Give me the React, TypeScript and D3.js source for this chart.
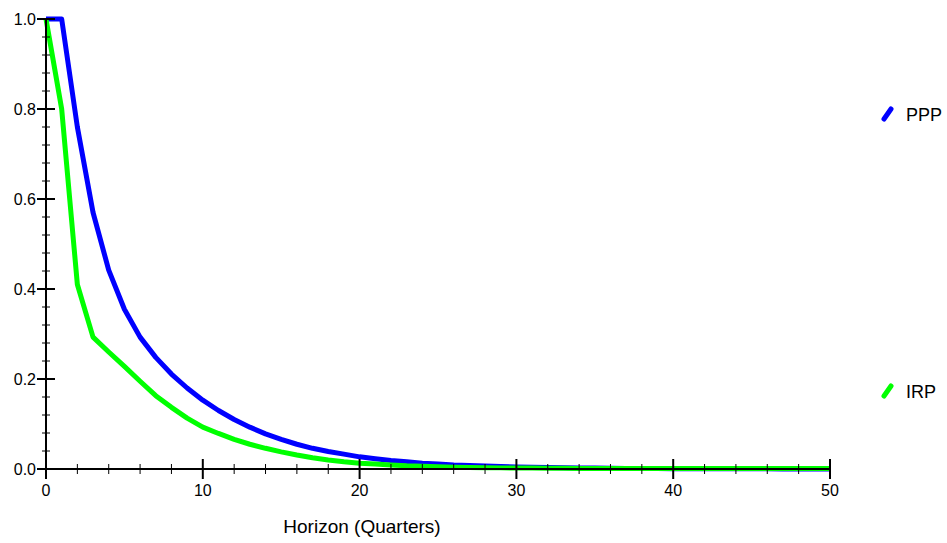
import React, { useEffect, useRef } from 'react'
import * as d3 from 'd3'

// impulse responses, quarters 0..50
const horizon = d3.range(0, 51)
const ppp = [1.0, 1.0, 0.76, 0.57, 0.442, 0.355, 0.293, 0.248, 0.211, 0.18, 0.153, 0.13, 0.11, 0.093, 0.078, 0.066, 0.055, 0.046, 0.039, 0.033, 0.027, 0.023, 0.019, 0.016, 0.013, 0.011, 0.009, 0.008, 0.0065, 0.0055, 0.0045, 0.004, 0.0033, 0.0028, 0.0023, 0.002, 0.0016, 0.0013, 0.0011, 0.0009, 0.0008, 0.0006, 0.0005, 0.0004, 0.0004, 0.0003, 0.0003, 0.0002, 0.0002, 0.0001, 0.0001]
const irp = [1.0, 0.8, 0.41, 0.293, 0.26, 0.228, 0.195, 0.163, 0.137, 0.113, 0.093, 0.079, 0.066, 0.055, 0.046, 0.038, 0.031, 0.025, 0.02, 0.016, 0.013, 0.011, 0.009, 0.007, 0.006, 0.005, 0.004, 0.0035, 0.003, 0.0025, 0.002, 0.002, 0.0015, 0.0015, 0.001, 0.001, 0.001, 0.001, 0.001, 0.001, 0.001, 0.001, 0.001, 0.001, 0.001, 0.001, 0.001, 0.001, 0.001, 0.001, 0.001]
const seriesNames = ['PPP', 'IRP']
const seriesColors = ['#0000ff', '#00ff00']
const xMajor = [0, 10, 20, 30, 40, 50]
const yMajor = [0, 0.2, 0.4, 0.6, 0.8, 1.0]

export default function App() {
  const ref = useRef<SVGSVGElement>(null)

  useEffect(() => {
    const width = 947, height = 543
    const svg = d3.select(ref.current)
    svg.selectAll('*').remove()

    const x = d3.scaleLinear().domain([0, 50]).range([46, 830])
    const y = d3.scaleLinear().domain([0, 1]).range([469, 19])
    const font = 'Liberation Sans, Arial, sans-serif'

    // series lines (drawn first so axes sit on top)
    const line = d3.line<number>()
      .x((d, i) => x(horizon[i]))
      .y(d => y(d))
    ;[ppp, irp].forEach((vals, k) => {
      svg.append('path')
        .attr('d', line(vals))
        .attr('fill', 'none')
        .attr('stroke', seriesColors[k])
        .attr('stroke-width', 5)
        .attr('stroke-linejoin', 'round')
    })

    const ax = svg.append('g').attr('stroke', '#000')
    ax.append('line').attr('x1', x(0)).attr('x2', x(50)).attr('y1', y(0)).attr('y2', y(0)).attr('stroke-width', 2)
    ax.append('line').attr('x1', x(0)).attr('x2', x(0)).attr('y1', y(0)).attr('y2', y(1)).attr('stroke-width', 2)

    // x ticks
    d3.range(0, 51, 2).forEach(v => {
      const major = v % 10 === 0
      const h = major ? 10 : 5
      ax.append('line').attr('x1', x(v)).attr('x2', x(v))
        .attr('y1', y(0) - h).attr('y2', y(0) + h)
        .attr('stroke-width', major ? 2 : 1)
    })
    // y ticks
    d3.range(0, 26).forEach(i => {
      const v = i * 0.04
      const major = i % 5 === 0
      const w = major ? 9 : 4
      ax.append('line').attr('x1', x(0) - w).attr('x2', x(0) + w)
        .attr('y1', y(v)).attr('y2', y(v))
        .attr('stroke-width', major ? 2 : 1)
    })

    svg.selectAll('.xl').data(xMajor).enter().append('text')
      .attr('x', d => x(d)).attr('y', 496)
      .attr('text-anchor', 'middle')
      .style('font-family', font).style('font-size', '16px')
      .text(d => d)

    svg.selectAll('.yl').data(yMajor).enter().append('text')
      .attr('x', 36).attr('y', d => y(d) + 5.5)
      .attr('text-anchor', 'end')
      .style('font-family', font).style('font-size', '16px')
      .text(d => d.toFixed(1))

    svg.append('text')
      .attr('x', 362).attr('y', 533)
      .attr('text-anchor', 'middle')
      .style('font-family', font).style('font-size', '19px')
      .text('Horizon (Quarters)')

    // legend
    const legendY = [114, 391]
    seriesNames.forEach((name, k) => {
      const cy = legendY[k]
      svg.append('line')
        .attr('x1', 884).attr('y1', cy + 5).attr('x2', 891).attr('y2', cy - 5)
        .attr('stroke', seriesColors[k]).attr('stroke-width', 5)
        .attr('stroke-linecap', 'round')
      svg.append('text')
        .attr('x', 906).attr('y', cy + 6.5)
        .style('font-family', font).style('font-size', '18px')
        .text(name)
    })

    svg.attr('width', width).attr('height', height)
  }, [])

  return (
    <svg ref={ref} width={947} height={543}
      style={{ position: 'absolute', left: 0, top: 0, background: '#fff' }} />
  )
}
